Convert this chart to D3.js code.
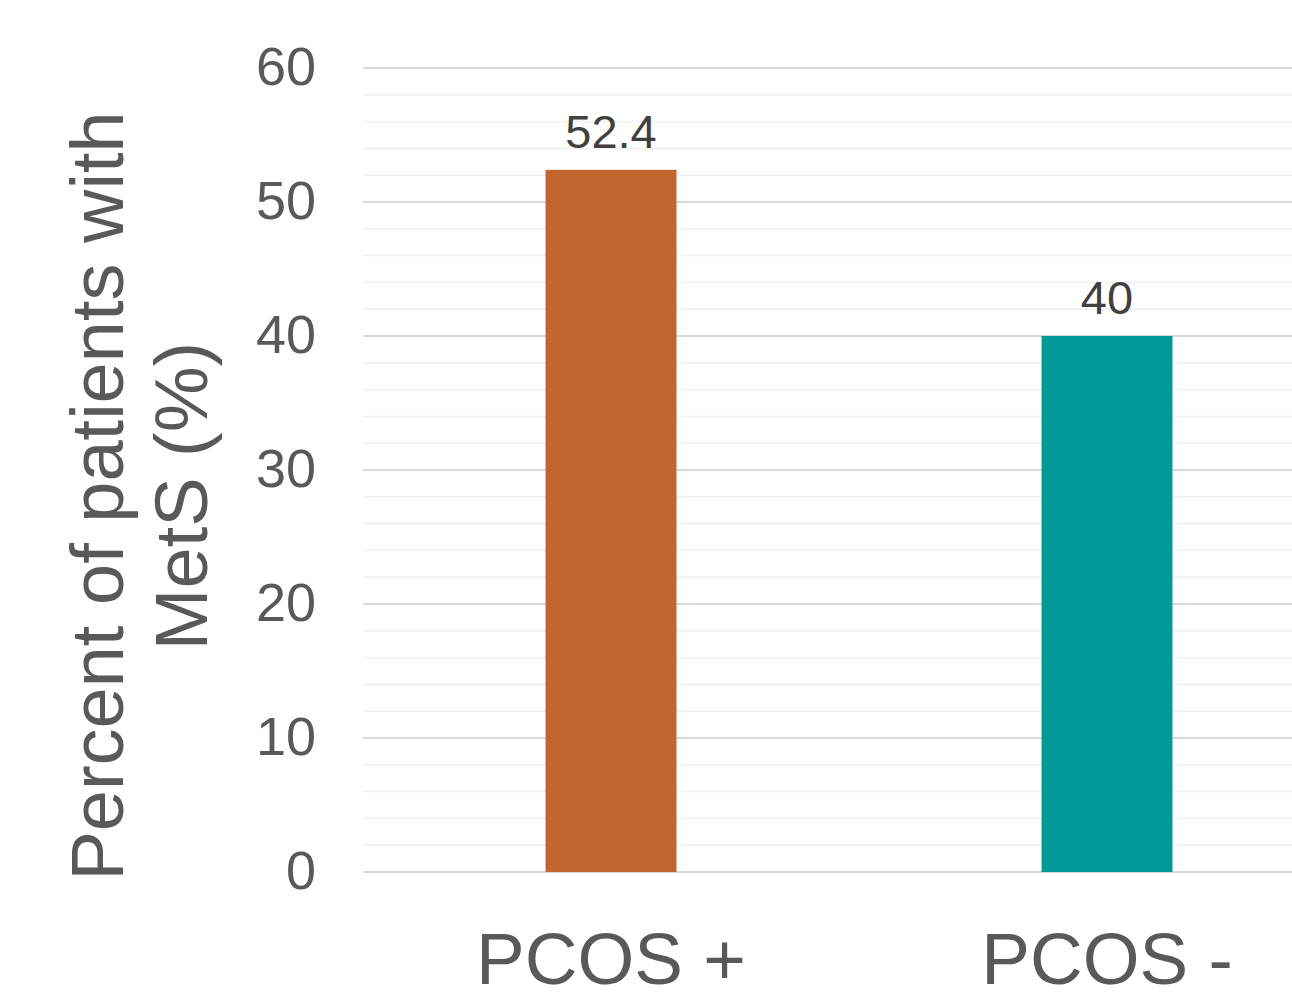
<!DOCTYPE html>
<html>
<head>
<meta charset="utf-8">
<script src="https://cdn.jsdelivr.net/npm/d3@7"></script>
<style>
  html, body { margin: 0; padding: 0; background: #ffffff; }
  svg { display: block; font-family: "Liberation Sans", Arial, sans-serif; }
</style>
</head>
<body>
<svg id="chart" width="1292" height="992"></svg>
<script>
const categories = ["PCOS +", "PCOS -"];
const values = [52.4, 40];
const valueLabels = ["52.4", "40"];
const barColors = ["#C2652E", "#009999"];
const yTicks = [0, 10, 20, 30, 40, 50, 60];
const yMinorTicks = [2, 4, 6, 8, 12, 14, 16, 18, 22, 24, 26, 28, 32, 34, 36, 38, 42, 44, 46, 48, 52, 54, 56, 58];
const yTitleLines = ["Percent of patients with", "MetS (%)"];

(function () {
const svg = d3.select("#chart");
const plotLeft = 363, plotRight = 1355, plotTop = 68, plotBottom = 872;

const x = d3.scaleBand().domain(categories).range([plotLeft, plotRight])
  .paddingInner(0.736).paddingOuter(0.368);
const y = d3.scaleLinear().domain([0, 60]).range([plotBottom, plotTop]);

// minor gridlines
svg.append("g").selectAll("line").data(yMinorTicks).join("line")
  .attr("x1", plotLeft).attr("x2", plotRight)
  .attr("y1", d => y(d)).attr("y2", d => y(d))
  .attr("stroke", "#f0f0f0").attr("stroke-width", 1.5);

// major gridlines
svg.append("g").selectAll("line").data(yTicks).join("line")
  .attr("x1", plotLeft).attr("x2", plotRight)
  .attr("y1", d => y(d)).attr("y2", d => y(d))
  .attr("stroke", "#d9d9d9").attr("stroke-width", 2);

// y axis labels
const yAxis = d3.axisLeft(y).tickValues(yTicks).tickSize(0).tickPadding(0).tickFormat(d3.format("d"));
const ya = svg.append("g").attr("transform", `translate(316,0)`).call(yAxis);
ya.select(".domain").remove();
ya.selectAll("text")
  .attr("fill", "#595959").attr("font-size", 54)
  .attr("font-family", "Liberation Sans, Arial, sans-serif")
  .attr("dy", "0.3em");

// bars
svg.append("g").selectAll("rect").data(values).join("rect")
  .attr("x", (d, i) => x(categories[i]))
  .attr("width", x.bandwidth())
  .attr("y", d => y(d))
  .attr("height", d => y(0) - y(d))
  .attr("fill", (d, i) => barColors[i]);

// value labels
svg.append("g").selectAll("text").data(values).join("text")
  .attr("x", (d, i) => x(categories[i]) + x.bandwidth() / 2)
  .attr("y", d => y(d) - 22)
  .attr("text-anchor", "middle")
  .attr("fill", "#404040").attr("font-size", 47)
  .text((d, i) => valueLabels[i]);

// x axis labels
const xAxis = d3.axisBottom(x).tickSize(0).tickPadding(0);
const xa = svg.append("g").attr("transform", `translate(0,${plotBottom})`).call(xAxis);
xa.select(".domain").remove();
xa.selectAll("text")
  .attr("fill", "#595959").attr("font-size", 73)
  .attr("font-family", "Liberation Sans, Arial, sans-serif")
  .attr("dy", null).attr("y", 112);

// y title
const yt = svg.append("text")
  .attr("transform", `translate(0,496) rotate(-90)`)
  .attr("text-anchor", "middle")
  .attr("fill", "#595959").attr("font-size", 74);
yt.selectAll("tspan").data(yTitleLines).join("tspan")
  .attr("x", 0).attr("y", (d, i) => 123 + i * 84)
  .text(d => d);
})();
</script>
</body>
</html>
